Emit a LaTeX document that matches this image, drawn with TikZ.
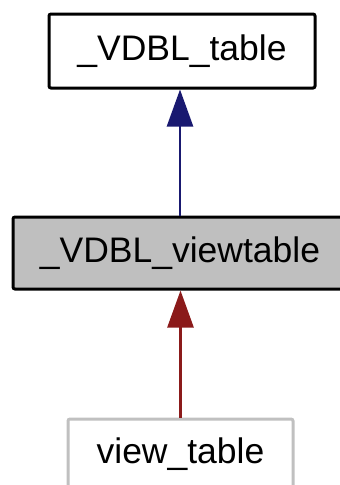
\documentclass[tikz,border=0pt]{standalone}
\usepackage{fontspec}
\setmainfont{Liberation Sans}
\usetikzlibrary{arrows.meta}
\definecolor{navyarrow}{HTML}{191970}
\definecolor{redarrow}{HTML}{8B1A1A}
\definecolor{boxgray}{HTML}{BFBFBF}
\definecolor{edgegray}{HTML}{C0C0C0}
\begin{document}
\begin{tikzpicture}[x=1pt,y=1pt,
  classbox/.style={draw=black, line width=3pt, rounded corners=2pt, inner sep=0pt,
    font=\fontsize{35.5}{40}\selectfont, text=black},
  inherit/.style={line width=2.6pt, -{Triangle[length=37pt,width=26pt]}}]
\useasboundingbox (0,0) rectangle (340,-485);
\node[classbox, fill=white, minimum width=266pt, minimum height=74pt] (top) at (182,-51) {\_VDBL\_table};
\node[classbox, fill=boxgray, minimum width=334pt, minimum height=72pt] (mid) at (180,-253) {\_VDBL\_viewtable};
\node[classbox, draw=edgegray, fill=white, minimum width=225pt, minimum height=72pt] (bot) at (180.5,-455) {};
\node[font=\fontsize{35.5}{40}\selectfont, anchor=base] (bottxt) at (180.5,-463) {view\_table};
\draw[inherit, navyarrow] (mid.north) -- (mid.north |- top.south);
\draw[inherit, redarrow] (bot.north) -- (bot.north |- mid.south);
\end{tikzpicture}
\end{document}
